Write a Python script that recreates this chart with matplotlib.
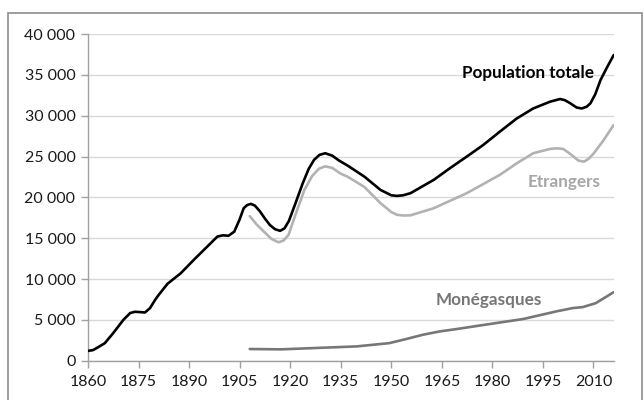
import matplotlib
matplotlib.use("Agg")
import matplotlib.pyplot as plt
from matplotlib.patches import Rectangle
from matplotlib.ticker import FuncFormatter

plt.rcParams['font.family'] = ['Lato', 'DejaVu Sans']

# values
total_years = [1860, 1861.5, 1863, 1865, 1867.5, 1870.5, 1872.5, 1873.9, 1875.5, 1876.9,
               1878.4, 1880, 1881, 1883.6, 1887.5, 1891.4, 1895.4, 1898.4, 1900,
               1901.7, 1903.4, 1905, 1906.2, 1907.2, 1908.3, 1909.5, 1911, 1912.5,
               1914, 1915.5, 1917, 1918.3, 1919.6, 1921.5, 1923.7, 1925.5, 1927.1,
               1928.7, 1930.4, 1932.5, 1934.5, 1937, 1942, 1946.8, 1950, 1951.7,
               1953.5, 1955.7, 1962.6, 1967.4, 1972.4, 1977.3, 1982.2, 1987.2,
               1992.1, 1997.1, 2000.1, 2001.5, 2003.1, 2005, 2006.5, 2008, 2009.1,
               2010.5, 2012.1, 2014, 2016]
total_pop = [1200, 1300, 1650, 2150, 3390, 5000, 5830, 5990, 5950, 5900,
             6440, 7500, 8070, 9420, 10700, 12350, 13980, 15200, 15350,
             15300, 15800, 17300, 18670, 19050, 19200, 19000, 18300, 17400,
             16600, 16100, 15900, 16200, 17100, 19200, 21700, 23500, 24600,
             25200, 25400, 25100, 24500, 23900, 22540, 20910, 20250, 20180,
             20250, 20510, 22140, 23570, 24990, 26420, 28040, 29650,
             30880, 31710, 32040, 31900, 31520, 31000, 30880, 31100, 31520,
             32600, 34370, 35900, 37420]

foreign_years = [1908, 1910, 1912.2, 1914.5, 1916.5, 1918, 1919.5, 1921.5, 1924.2,
                 1926.5, 1928.5, 1930.4, 1932.5, 1935, 1937, 1942, 1946.8, 1950,
                 1951.7, 1953.5, 1955.7, 1962.6, 1972.4, 1982.2, 1987.2, 1992.1,
                 1997.1, 1999, 2001, 2002.5, 2004.1, 2005.5, 2007.2, 2008.5, 2010.1,
                 2013, 2016]
foreign_pop = [17700, 16700, 15800, 14900, 14500, 14700, 15400, 17800, 20900,
               22600, 23500, 23800, 23600, 22900, 22540, 21280, 19290, 18200,
               17860, 17780, 17800, 18670, 20510, 22750, 24160, 25400,
               25930, 26000, 25930, 25500, 24990, 24500, 24370, 24700, 25400,
               27000, 28860]

monaco_years = [1908, 1917.3, 1929.7, 1939.7, 1949.4, 1954.4, 1959.4, 1964.3,
                1969.3, 1979.2, 1989.1, 1998.9, 2003.8, 2006.8, 2010.7, 2016]
monaco_pop = [1430, 1390, 1590, 1750, 2150, 2650, 3180, 3580,
              3870, 4490, 5100, 6030, 6440, 6560, 7050, 8390]

x_ticks = list(range(1860, 2011, 15))
y_ticks = list(range(0, 40001, 5000))

fig = plt.figure(figsize=(6.44, 4.0), dpi=100)
ax = fig.add_axes([88 / 644, 1 - 360.7 / 400, (613.7 - 88) / 644, (360.7 - 34) / 400])

ax.plot(total_years, total_pop, color='black', lw=1.9, solid_capstyle='round',
        solid_joinstyle='round', zorder=4)
ax.plot(foreign_years, foreign_pop, color='#b2b2b2', lw=1.9, solid_capstyle='round',
        solid_joinstyle='round', zorder=3)
ax.plot(monaco_years, monaco_pop, color='#777777', lw=1.9, solid_capstyle='round',
        solid_joinstyle='round', zorder=3)

ax.set_xlim(1860, 2016)
ax.set_ylim(0, 40000)
ax.set_xticks(x_ticks)
ax.set_yticks(y_ticks)
ax.yaxis.set_major_formatter(FuncFormatter(lambda v, p: f"{int(v):,}".replace(",", " ")))
ax.grid(axis='y', color='#d9d9d9', lw=1.0, zorder=0)
ax.set_axisbelow(True)

for s in ['top', 'right']:
    ax.spines[s].set_visible(False)
for s in ['left', 'bottom']:
    ax.spines[s].set_color('#a0a0a0')
    ax.spines[s].set_linewidth(1.0)
ax.tick_params(axis='both', colors='#a0a0a0', labelcolor='#1a1a1a', labelsize=11.5,
               length=5, width=1.0, direction='out')
ax.tick_params(axis='x', pad=5)
ax.tick_params(axis='y', pad=4)

ax.text(528, 400 - 73, 'Population totale', transform=None, ha='center', va='center',
        fontsize=12.3, fontweight='bold', color='black')
ax.text(564.5, 400 - 181.7, 'Etrangers', transform=None, ha='center', va='center',
        fontsize=12.3, fontweight='bold', color='#a6a6a6')
ax.text(489, 400 - 300, 'Monégasques', transform=None, ha='center', va='center',
        fontsize=12.3, fontweight='bold', color='#767676')

# chart border
fig.patches.append(Rectangle((8 / 644, -0.02), (642 - 8) / 644, 1.02 - 13 / 400,
                             transform=fig.transFigure, fill=False,
                             edgecolor='#8c8c8c', lw=1.2))

fig.savefig('out.png', dpi=100)
